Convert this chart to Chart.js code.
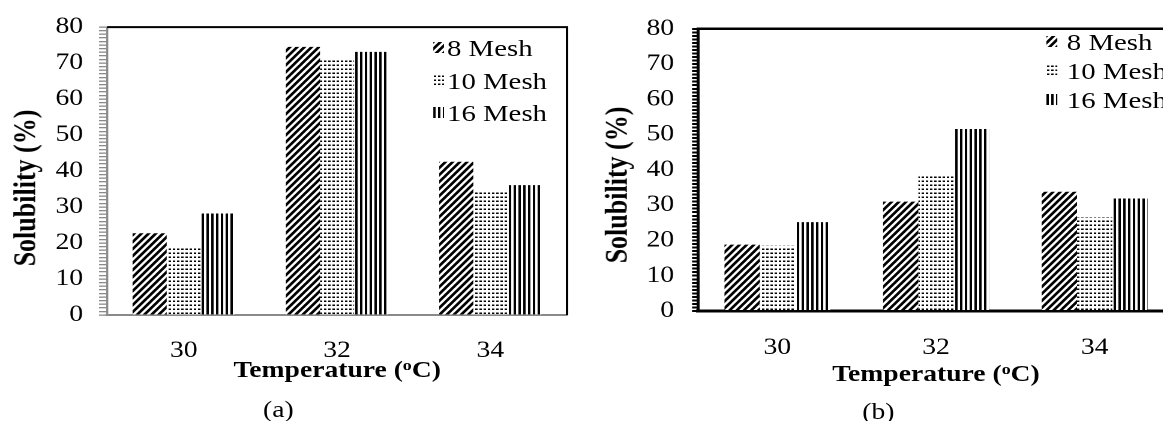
<!DOCTYPE html>
<html>
<head>
<meta charset="utf-8">
<script src="https://cdn.jsdelivr.net/npm/chart.js@4.4.1/dist/chart.umd.min.js"></script>
<style>
html, body { margin: 0; padding: 0; background: #fff; overflow: hidden; width: 1163px; height: 421px; }
/* the source figure is stretched sideways, so the whole page is too */
#page { position: absolute; left: 0; top: 0; width: 970px; height: 421px; transform: scaleX(1.2); transform-origin: 0 0;
        font-family: 'Liberation Serif', 'Times New Roman', serif; color: #000; }
.box { position: absolute; top: 0; height: 421px; }
.t { position: absolute; white-space: nowrap; text-align: center; font-size: 23px; line-height: 28px; height: 28px; }
.b { font-weight: bold; }
.yt { font-size: 26px; line-height: 30px; height: 30px; }
.sup { font-size: 0.65em; vertical-align: 0.5em; line-height: 0; }
.rot { transform: rotate(-90deg); }
.leg { position: absolute; font-size: 24px; line-height: 28px; height: 28px; white-space: nowrap; }
.leg canvas { position: absolute; top: 8px; }
.leg span { position: absolute; top: 0; }
</style>
</head>
<body>
<div id="page">
  <div class="box" style="left:0;width:484px"><canvas id="chartA" width="484" height="421"></canvas></div>
  <div class="box" style="left:484px;width:510px"><canvas id="chartB" width="510" height="421"></canvas></div>

  <div class="t b" style="left:131px;width:300px;top:356px">Temperature (<span class="sup">o</span>C)</div>
  <div class="t b" style="left:630px;width:300px;top:360px">Temperature (<span class="sup">o</span>C)</div>
  <div class="t b yt rot" style="left:-79px;width:200px;top:173px">Solubility (%)</div>
  <div class="t b yt rot" style="left:414px;width:200px;top:170px">Solubility (%)</div>
  <div class="t" style="left:182px;width:100px;top:396px">(a)</div>
  <div class="t" style="left:682px;width:100px;top:398px">(b)</div>
  <div id="legA"></div>
  <div id="legB"></div>
</div>

<script>
const categories = ['30', '32', '34'];
const seriesNames = ['8 Mesh', '10 Mesh', '16 Mesh'];

// (a)
const a8 = [22.7, 74.5, 42.6];
const a10 = [18.5, 71.4, 34.5];
const a16 = [28.2, 73.1, 36.1];

// (b)
const b8 = [18.8, 31.0, 33.8];
const b10 = [18.5, 38.6, 26.5];
const b16 = [25.2, 51.6, 31.9];

const yMin = 0, yMax = 80, yLabelStep = 10, yMinorStep = 1;

const FONT = "'Liberation Serif', 'Times New Roman', serif";

// ---------------- PATTERNS ----------------
// tiles are drawn at 2x and shrunk back so they stay sharp
function tile(w, h, draw) {
    const c = document.createElement('canvas');
    c.width = w; c.height = h;
    const g = c.getContext('2d');
    g.fillStyle = '#fff';
    g.fillRect(0, 0, w, h);
    g.fillStyle = '#000';
    g.strokeStyle = '#000';
    draw(g, w, h);
    const p = g.createPattern(c, 'repeat');
    p.setTransform(new DOMMatrix([0.5, 0, 0, 0.5, 0, 0]));
    return p;
}

const diag = tile(12, 14, (g, w, h) => {
    g.lineWidth = 4.8;
    g.beginPath();
    for (let k = -1; k <= 1; k++) {
        g.moveTo(k * w - w, 2 * h);
        g.lineTo(k * w + 2 * w, -h);
    }
    g.stroke();
});

const dots = tile(7, 8, (g) => {
    g.fillRect(1, 1, 4, 3);
});

const vlines = tile(8, 4, (g) => {
    g.fillRect(0, 0, 4, 4);
});

const fills = [diag, dots, vlines];

// ---------------- FRAME ----------------
const framePlugin = {
    id: 'frame',
    afterDraw(chart, args, opts) {
        const { ctx, chartArea: a } = chart;
        ctx.save();
        ctx.strokeStyle = '#000';
        ctx.lineWidth = opts.width;
        ctx.beginPath();
        ctx.moveTo(a.left, a.top);
        ctx.lineTo(a.right, a.top);
        ctx.lineTo(a.right, a.bottom);
        ctx.stroke();
        ctx.restore();
    }
};

// ---------------- CHARTS ----------------
function panel(id, sets, o) {
    return new Chart(document.getElementById(id), {
        type: 'bar',
        data: {
            labels: categories,
            datasets: sets.map((d, i) => ({
                label: seriesNames[i],
                data: d,
                backgroundColor: fills[i],
                borderWidth: 0,
                categoryPercentage: 0.667,
                barPercentage: 1
            }))
        },
        options: {
            responsive: false,
            animation: false,
            devicePixelRatio: 2,
            layout: { padding: { left: 0, top: o.top, right: o.right, bottom: 0 } },
            plugins: {
                legend: { display: false },
                tooltip: { enabled: false },
                frame: { width: o.frameWidth }
            },
            scales: {
                x: {
                    afterFit: s => { s.height = 421 - o.bottom; },
                    ticks: { padding: o.xPad, color: '#000', font: { family: FONT, size: 23 } },
                    grid: { display: false },
                    border: { display: true, color: o.axisColor, width: o.xAxisWidth }
                },
                y: {
                    min: yMin,
                    max: yMax,
                    afterFit: s => { s.width = o.yWidth; },
                    ticks: {
                        stepSize: yMinorStep,
                        maxTicksLimit: 200,
                        autoSkip: false,
                        padding: o.yPad,
                        color: '#000',
                        font: { family: FONT, size: 23 },
                        callback: v => (v % yLabelStep === 0 ? v : '')
                    },
                    grid: {
                        drawOnChartArea: false,
                        drawTicks: true,
                        tickLength: o.tickLen,
                        color: o.axisColor,
                        lineWidth: o.tickWidth
                    },
                    border: { display: true, color: o.axisColor, width: o.yAxisWidth }
                }
            }
        },
        plugins: [framePlugin]
    });
}

panel('chartA', [a8, a10, a16], {
    top: 26, bottom: 315, right: 11.5, yWidth: 89.2, yPad: 13.3, xPad: 14,
    tickLen: 6.7, tickWidth: 1.3, axisColor: '#8a8a8a', xAxisWidth: 2, yAxisWidth: 1.7, frameWidth: 2
});

panel('chartB', [b8, b10, b16], {
    top: 25, bottom: 311, right: 15.7, yWidth: 97.7, yPad: 15, xPad: 15,
    tickLen: 5, tickWidth: 2, axisColor: '#000', xAxisWidth: 3, yAxisWidth: 2.5, frameWidth: 2.5
});

// ---------------- LEGENDS ----------------
function legend(id, x, textX, rows) {
    const host = document.getElementById(id);
    seriesNames.forEach((name, i) => {
        const row = document.createElement('div');
        row.className = 'leg';
        row.style.left = x + 'px';
        row.style.top = (rows[i] - 14) + 'px';
        const sw = document.createElement('canvas');
        sw.width = 18; sw.height = 22;
        sw.style.width = '9px'; sw.style.height = '11px';
        sw.style.left = '0px';
        const g = sw.getContext('2d');
        g.scale(2, 2);
        g.fillStyle = fills[i];
        g.fillRect(0, 0, 9, 11);
        const tx = document.createElement('span');
        tx.style.left = (textX - x) + 'px';
        tx.textContent = name;
        row.appendChild(sw);
        row.appendChild(tx);
        host.appendChild(row);
    });
}

legend('legA', 361, 372.5, [48, 81, 113]);
legend('legB', 872, 889, [42, 71, 100]);
</script>
</body>
</html>
